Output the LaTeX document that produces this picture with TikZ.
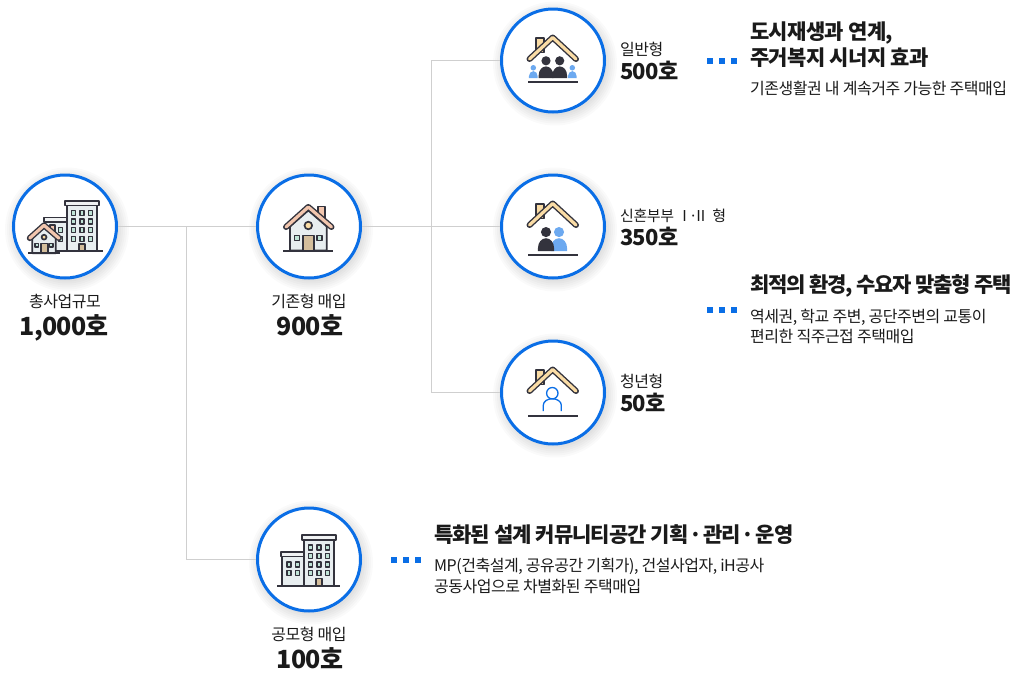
\documentclass[tikz,border=0pt]{standalone}
\usepackage{fontspec}
\usetikzlibrary{calc}
\setmainfont{Noto Sans CJK KR}
\newfontfamily\tightfont[LetterSpace=-3]{Noto Sans CJK KR}
\newfontfamily\midfont[LetterSpace=-4.5]{Noto Sans CJK KR}
\newfontfamily\tighterfont[LetterSpace=-6]{Noto Sans CJK KR}
\begin{document}
\begin{tikzpicture}[x=1pt, y=-1pt,
    linkline/.style={draw=linkColour, line width=0.8pt},
    hub/.style={circle, draw=hubColour, fill=white, line width=3pt, minimum size=103pt, inner sep=0pt},
    dotsquare/.style={fill=hubColour, minimum size=5.5pt, inner sep=0pt},
    smalltext/.style={anchor=base west, font=\tightfont\fontsize{16}{18}\selectfont, text=textColour, inner sep=0pt},
    smallmid/.style={smalltext, anchor=base},
    counttext/.style={anchor=base west, font=\tightfont\bfseries\fontsize{22}{26}\selectfont, text=textColour, inner sep=0pt},
    countmid/.style={counttext, anchor=base, font=\tightfont\bfseries\fontsize{25}{30}\selectfont},
    headtext/.style={anchor=base west, font=\tightfont\bfseries\fontsize{21}{25}\selectfont, text=textColour, inner sep=0pt},
    icon/.style={draw=iconColour, line width=1.7pt, line join=round},
    groundline/.style={draw=iconColour, line width=2pt},
    pics/cottage/.style={code={
        \draw[icon, fill=roofPink] (8.7,-20) rectangle (16,-5);
        \draw[icon, fill=wallColour] (-19,0) -- (-19,24) -- (17.7,24) -- (17.7,0) -- (-0.7,-16) -- cycle;
        \draw[iconColour, line width=6pt, line join=round, line cap=round] (-23,0.5) -- (-0.7,-19.5) -- (22.5,0.5);
        \draw[roofPink, line width=3.2pt, line join=round, line cap=round] (-23,0.5) -- (-0.7,-19.5) -- (22.5,0.5);
        \draw[icon, fill=doorColour] (-5.7,9) rectangle (5,24);
        \draw[icon, fill=roofCream] (-0.7,-1) circle (3.8);
        \draw[icon, fill=glassColour] (-14.5,9) rectangle (-9.5,14);
        \draw[icon, fill=glassColour] (8,9) rectangle (13,14);
        \draw[groundline] (-25.7,24) -- (24.3,24);
    }},
    pics/block/.style={code={
        \draw[icon, fill=wallColour] (-26.7,-5) rectangle (-4.7,26);
        \draw[icon, fill=capColour] (-28,-7.7) rectangle (-4.7,-3);
        \draw[icon, fill=wallColour] (-4.7,-21) rectangle (25.3,26);
        \draw[icon, fill=capColour] (-6.7,-24.3) rectangle (27.3,-19.7);
        \foreach \x in {1.7,10,18.7}
            \foreach \y in {-12,-3.7,5,13.7}
                \draw[icon, fill=glassColour, line width=1.4pt] (\x-2,\y-2.5) rectangle (\x+2,\y+2.5);
        \foreach \x in {-20,-11.3}
            \foreach \y in {5,13.7}
                \draw[icon, fill=glassColour, line width=1.4pt] (\x-2,\y-2.5) rectangle (\x+2,\y+2.5);
        \fill[wallColour] (6,19) rectangle (14.5,25);
        \draw[icon, fill=doorColour] (7.2,19) rectangle (13.2,26);
        \draw[groundline] (-31.7,26) -- (31,26);
    }},
    pics/creamroof/.style={code={
        \draw[icon, fill=roofCream] (-16.7,-22.3) rectangle (-9.3,-8);
        \draw[iconColour, line width=6pt, line join=round, line cap=round] (-23.5,-1.5) -- (-0.3,-23) -- (23,-1.5);
        \draw[roofCream, line width=3.2pt, line join=round, line cap=round] (-23.5,-1.5) -- (-0.3,-23) -- (23,-1.5);
    }},
    pics/person/.style={code={
        \fill[#1] (0,-17.4) circle (4.6);
        \fill[#1] (-7.3,0) -- (-7.3,-3) arc (180:360:7.3 and 8.8) -- (7.3,0) -- cycle;
    }}
    ]
    \definecolor{hubColour}{HTML}{0A6EE6}
    \definecolor{linkColour}{HTML}{CFCFCF}
    \definecolor{textColour}{HTML}{1A1A1A}
    \definecolor{iconColour}{HTML}{33333D}
    \definecolor{roofPink}{HTML}{F2C6AE}
    \definecolor{roofCream}{HTML}{FADCA5}
    \definecolor{wallColour}{HTML}{E8EEF0}
    \definecolor{capColour}{HTML}{F0F2F3}
    \definecolor{doorColour}{HTML}{D4BE9C}
    \definecolor{glassColour}{HTML}{BFE3D6}
    \definecolor{personBlue}{HTML}{6CA9F0}

    \useasboundingbox (0,0) rectangle (1010,673);

    % Fork points of the connectors
    \coordinate (forkTotal) at (186,226.5);
    \coordinate (forkExist) at (431,226.5);

    % Draw hubs with a soft shadow
    \foreach \hubName/\hubX/\hubY in {hubTotal/65/226.5, hubExist/309/226.5, hubGeneral/553/60.5, hubCouple/553/226.5, hubYouth/553/392.5, hubContest/309/559.5} {
        \foreach \r in {52,54,...,62}
            \fill[black, opacity=0.02] (\hubX+2,\hubY+3) circle (\r);
        \node[hub] (\hubName) at (\hubX,\hubY) {};
    }

    % Draw connectors
    \draw[linkline] (hubTotal) -- (hubExist);
    \draw[linkline] (hubExist) -- (hubCouple);
    \draw[linkline] (forkTotal) |- (hubContest);
    \draw[linkline] (forkExist) |- (hubGeneral);
    \draw[linkline] (forkExist) |- (hubYouth);

    % Icons
    \pic at ($(hubTotal)+(7,-1.3)$) {block};
    \pic[scale=0.64] at ($(hubTotal)+(-20.5,11.3)$) {cottage};
    \pic at (hubExist) {cottage};
    \pic at (hubContest) {block};

    % General type: two adults, two children
    \pic at (hubGeneral) {creamroof};
    \pic at ($(hubGeneral)+(-7,17.7)$) {person=iconColour};
    \pic at ($(hubGeneral)+(6.7,17.7)$) {person=iconColour};
    \pic[scale=0.6] at ($(hubGeneral)+(-19.7,17.7)$) {person=personBlue};
    \pic[scale=0.6] at ($(hubGeneral)+(19.3,17.7)$) {person=personBlue};
    \draw[groundline] ($(hubGeneral)+(-25,21)$) -- ($(hubGeneral)+(25,21)$);

    % Couple type
    \pic at (hubCouple) {creamroof};
    \pic[scale=1.1] at ($(hubCouple)+(6,24.7)$) {person=personBlue};
    \pic[scale=1.1] at ($(hubCouple)+(-7,24.7)$) {person=iconColour};
    \draw[groundline] ($(hubCouple)+(-25,28)$) -- ($(hubCouple)+(25,28)$);

    % Youth type
    \pic at (hubYouth) {creamroof};
    \draw[hubColour, line width=1.3pt] ($(hubYouth)+(-0.7,0.7)$) circle (5.7);
    \draw[hubColour, line width=1.3pt] ($(hubYouth)+(-9.7,18.7)$) -- ++(0,-6) arc (180:360:9 and 6.5) -- ++(0,6);
    \draw[groundline] ($(hubYouth)+(-25,23.7)$) -- ($(hubYouth)+(25,23.7)$);

    % Labels under the hubs
    \node[smallmid] (labelTotal) at (65,307.5) {총사업규모};
    \node[countmid] (countTotal) at (64,335) {1,000호};
    \node[smallmid] (labelExist) at (309,307.5) {기존형 매입};
    \node[countmid] (countExist) at (310,335) {900호};
    \node[smallmid] (labelContest) at (309,640.5) {공모형 매입};
    \node[countmid] (countContest) at (310,668) {100호};

    % Labels beside the hubs
    \node[smalltext] (labelGeneral) at (620,55.5) {일반형};
    \node[counttext] (countGeneral) at (620,79.5) {500호};
    \node[smalltext, font=\tightfont\fontsize{15}{18}\selectfont] (labelCouple) at (620,221.5) {신혼부부\hspace{3pt}Ⅰ\hspace{-3pt}·\hspace{-4pt}Ⅱ\hspace{4pt}형};
    \node[counttext] (countCouple) at (620,245.5) {350호};
    \node[smalltext] (labelYouth) at (620,387.5) {청년형};
    \node[counttext] (countYouth) at (620,411.5) {50호};

    % Dotted markers
    \foreach \dotX/\dotY in {710/61, 722/61, 734/61, 710/310, 722/310, 734/310, 394/560, 406/560, 418/560}
        \node[dotsquare] (dot\dotX\dotY) at (\dotX,\dotY) {};

    % Descriptions
    \node[headtext] (headGeneralA) at (750,39.5) {도시재생과 연계,};
    \node[headtext] (headGeneralB) at (750,65.5) {주거복지 시너지 효과};
    \node[smalltext] (textGeneral) at (750,94.5) {기존생활권 내 계속거주 가능한 주택매입};
    \node[headtext, font=\tighterfont\bfseries\fontsize{21}{25}\selectfont] (headYouth) at (750,292) {최적의 환경, 수요자 맞춤형 주택};
    \node[smalltext] (textYouthA) at (750,322.5) {역세권, 학교 주변, 공단주변의 교통이};
    \node[smalltext] (textYouthB) at (750,342.5) {편리한 직주근접 주택매입};
    \node[headtext, font=\midfont\bfseries\fontsize{21}{25}\selectfont] (headContest) at (434,542) {특화된 설계 커뮤니티공간 기획\hspace{1pt}·\hspace{1pt}관리\hspace{1pt}·\hspace{1pt}운영};
    \node[smalltext] (textContestA) at (434,571.5) {MP(건축설계, 공유공간 기획가), 건설사업자, iH공사};
    \node[smalltext] (textContestB) at (434,592.5) {공동사업으로 차별화된 주택매입};
\end{tikzpicture}
\end{document}
